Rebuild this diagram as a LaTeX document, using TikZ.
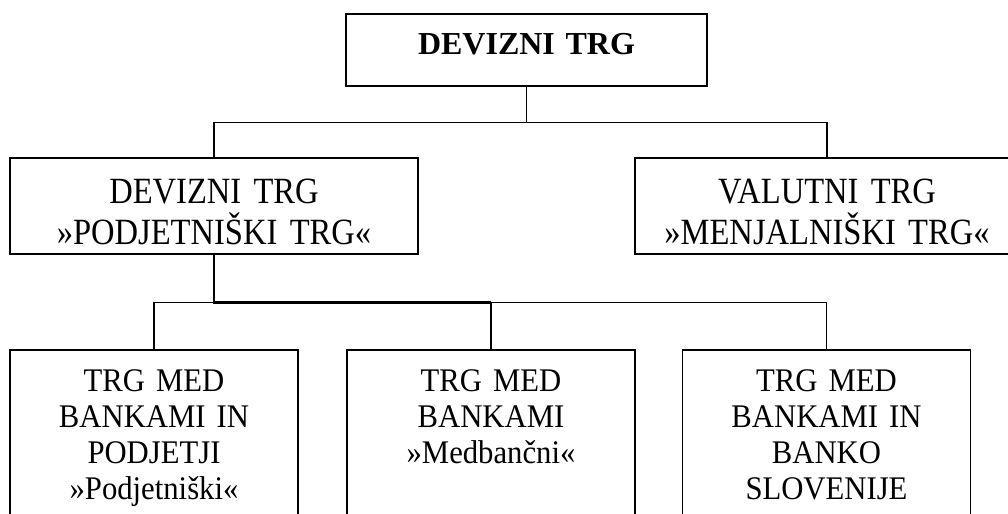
\documentclass[tikz,border=0pt]{standalone}
\usepackage{fontspec}
\setmainfont{Liberation Serif}
\newfontfamily\midserif[FakeStretch=0.88]{Liberation Serif}
\newfontfamily\lowserif[FakeStretch=0.93]{Liberation Serif}

\begin{document}
\begin{tikzpicture}[
  x=1pt, y=1pt,
  box/.style={rectangle, draw, line width=0.75pt, inner sep=0pt, align=center, anchor=base},
  topbox/.style={box, text width=180.5pt, text height=20.5pt, text depth=15.5pt, font=\fontsize{16}{19}\selectfont\bfseries},
  midbox/.style={box, text height=23pt, text depth=25pt, font=\midserif\fontsize{18.5}{20.5}\selectfont},
  lowbox/.style={box, text width=144pt, text height=21pt, text depth=70pt, font=\lowserif\fontsize{16.5}{18}\selectfont},
  link/.style={line width=0.75pt},
  bus/.style={line width=1.3pt},
]
\useasboundingbox (0,0) rectangle (504,257);
\clip (0,0) rectangle (504,257);

% -- top: the whole market --
\node[topbox] (devtrg) at (263.25,229.5) {DEVIZNI TRG};

% -- row 2 --
\node[midbox, text width=204pt] (podjtrg) at (107,155) {DEVIZNI TRG\\»PODJETNIŠKI TRG«};
\node[midbox, text width=192pt] (menjtrg) at (413.5,155) {VALUTNI TRG\\»MENJALNIŠKI TRG«};

% -- row 3 (cut off at the bottom) --
\node[lowbox] (bankpod) at (77,61) {TRG MED\\BANKAMI IN\\PODJETJI\\»Podjetniški«};
\node[lowbox] (medban) at (245.5,61) {TRG MED\\BANKAMI\\»Medbančni«};
\node[lowbox] (bankslo) at (413.25,61) {TRG MED\\BANKAMI IN\\BANKO\\SLOVENIJE};

% -- connectors --
\draw[link] (devtrg.south) -- ++(0,-18) coordinate (topsplit) -| (podjtrg.north);
\draw[link] (topsplit) -| (menjtrg.north);

\draw[bus] (podjtrg.south) -- ++(0,-24) coordinate (lowsplit) -- (lowsplit -| medban.north);
\draw[link] (lowsplit) -| (bankpod.north);
\draw[link] (lowsplit) -| (medban.north);
\draw[link] (lowsplit) -| (bankslo.north);

\end{tikzpicture}
\end{document}
